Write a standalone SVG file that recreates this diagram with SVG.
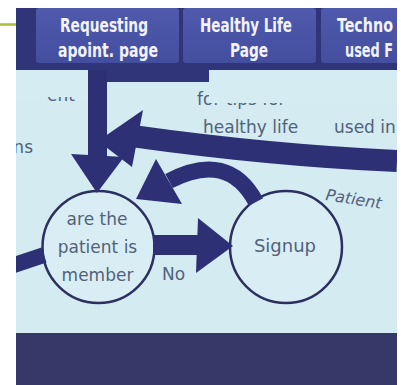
<svg xmlns="http://www.w3.org/2000/svg" width="401" height="385" viewBox="0 0 401 385">
<defs>
<clipPath id="pic"><rect x="16" y="8" width="381" height="377"/></clipPath>
<linearGradient id="tabg" x1="0" y1="0" x2="0" y2="1">
<stop offset="0" stop-color="#4f5aad"/>
<stop offset="1" stop-color="#444e9f"/>
</linearGradient>
<style>
.tab{fill:url(#tabg);}
.htxt{font-family:"DejaVu Sans Condensed","DejaVu Sans",sans-serif;font-weight:bold;font-size:19px;fill:#f2f3ff;}
.btxt{font-family:"DejaVu Sans",sans-serif;font-size:17px;fill:#52627a;}
.node{fill:#d9eef4;stroke:#2b3060;stroke-width:2.5;}
.ntxt{font-family:"DejaVu Sans",sans-serif;font-size:17px;fill:#52627a;text-anchor:middle;}
.conn{fill:none;stroke:#2d3074;}
.head{fill:#2d3074;}
.pale{fill:#d5ecf3;}
</style>
</defs>
<rect width="401" height="385" fill="#ffffff"/>
<line x1="0" y1="24.5" x2="17" y2="24.5" stroke="#a6c23a" stroke-width="2.5"/>
<g clip-path="url(#pic)">
<rect x="16" y="8" width="381" height="75" fill="#30357a"/>
<rect x="16" y="82" width="381" height="252" fill="#d4ebf2"/>
<rect x="16" y="333" width="381" height="52" fill="#363867"/>
<g id="tab-requesting">
<rect class="tab" x="36" y="8" width="143" height="55" rx="3"/>
<text class="htxt" x="60" y="32" textLength="88" lengthAdjust="spacingAndGlyphs">Requesting</text>
<text class="htxt" x="58" y="57" textLength="100" lengthAdjust="spacingAndGlyphs">apoint. page</text>
</g>
<g id="tab-healthy">
<rect class="tab" x="183" y="8" width="133" height="55" rx="3"/>
<text class="htxt" x="200" y="32" textLength="92" lengthAdjust="spacingAndGlyphs">Healthy Life</text>
<text class="htxt" x="230" y="57" textLength="38" lengthAdjust="spacingAndGlyphs">Page</text>
</g>
<g id="tab-techno">
<rect class="tab" x="321" y="8" width="90" height="55" rx="3"/>
</g>
<text class="btxt" x="75" y="101" text-anchor="end">ent</text>
<text class="btxt" x="197" y="105">for tips for</text>
<text class="btxt" x="33" y="153" text-anchor="end">ns</text>
<text class="btxt" x="203" y="133">healthy life</text>
<text class="btxt" x="334" y="133">used in</text>
<rect class="pale" x="16" y="70" width="80" height="27"/>
<rect class="pale" x="209" y="70" width="188" height="33"/>
<g id="node-member">
<circle class="node" cx="98.5" cy="247" r="56"/>
<text class="ntxt" x="97" y="225">are the</text>
<text class="ntxt" x="97.5" y="253">patient is</text>
<text class="ntxt" x="97.5" y="281">member</text>
</g>
<g id="node-signup">
<circle class="node" cx="286" cy="247" r="56"/>
<text class="ntxt" x="285" y="252" style="font-size:18px">Signup</text>
</g>
<g id="connectors">
<line class="conn" x1="97.5" y1="70" x2="97.5" y2="158" stroke-width="19"/>
<polygon class="head" points="71,154 124,157 97,193"/>
<path class="conn" d="M397,161 Q271.5,155.5 132,136" stroke-width="22"/>
<polygon class="head" points="143,110 132,167 98,141"/>
<path class="conn" d="M256,202 Q228,150 169,181" stroke-width="16"/>
<polygon class="head" points="156,159 182,204 136,199"/>
<line class="conn" x1="153" y1="245" x2="200" y2="245" stroke-width="20"/>
<polygon class="head" points="198,218 196,273 233,246"/>
<line class="conn" x1="8" y1="267" x2="44" y2="255" stroke-width="16"/>
<text class="btxt" x="162" y="280">No</text>
<text class="btxt" x="325" y="200" transform="rotate(9 325 200)" style="font-style:italic;font-size:16px">Patient</text>
</g>
</g>
<g id="tab-techno-text">
<text class="htxt" x="337" y="32" textLength="56" lengthAdjust="spacingAndGlyphs">Techno</text>
<text class="htxt" x="345" y="57" textLength="48" lengthAdjust="spacingAndGlyphs">used F</text>
</g>
</svg>
